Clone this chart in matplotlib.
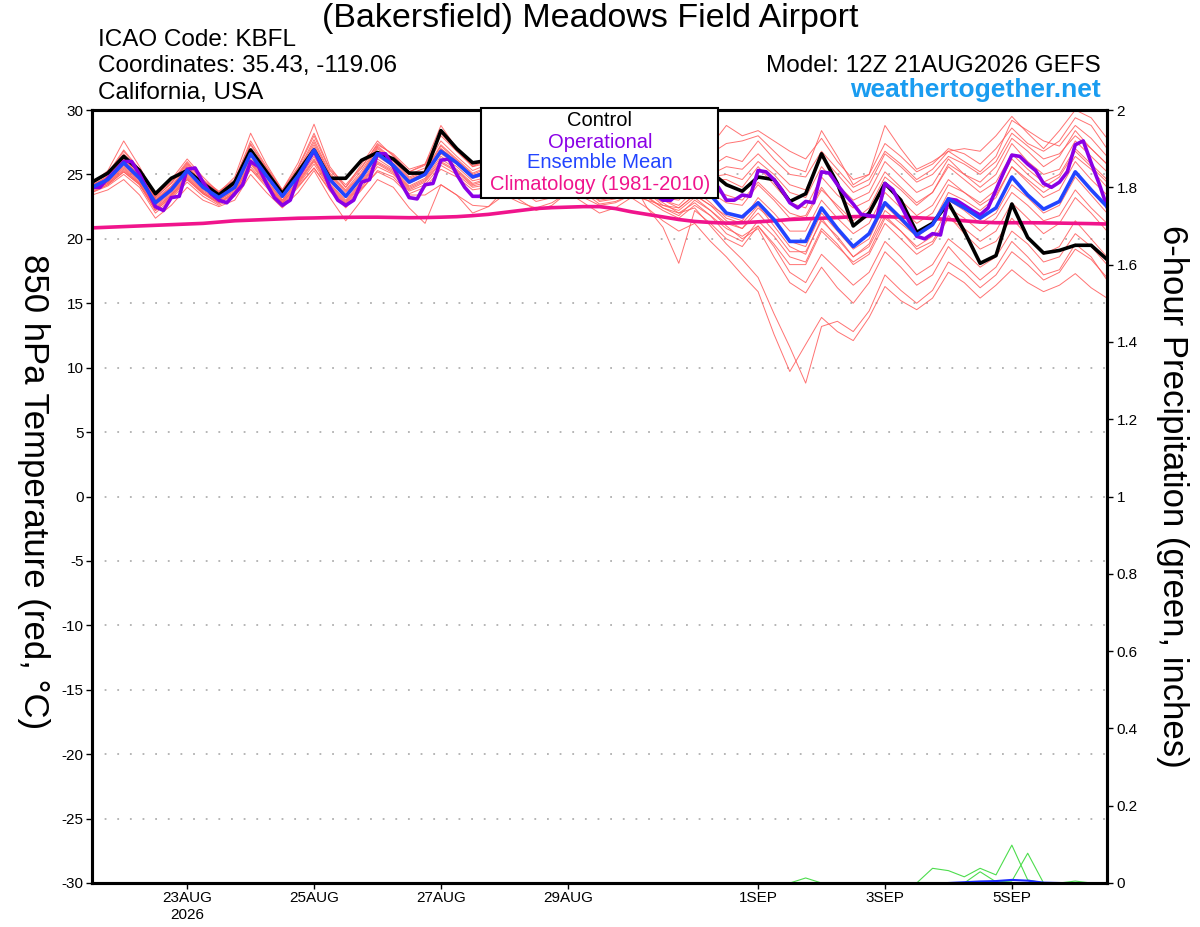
import numpy as np
import pandas as pd
import matplotlib
matplotlib.use("Agg")
import matplotlib.pyplot as plt
from matplotlib.patches import Rectangle

plt.rcParams['font.family'] = ['Liberation Sans', 'DejaVu Sans']
plt.rcParams['axes.unicode_minus'] = False

# 6-hourly GEFS steps from 12Z 21AUG2026, operational run every 3 hours
times = pd.date_range("2026-08-21 12:00", periods=65, freq="6h")
times_op = pd.date_range("2026-08-21 12:00", periods=129, freq="3h")

control = [24.4, 25.1, 26.4, 25.3, 23.5, 24.7, 25.3, 24.3, 23.4, 24.4, 26.9, 25.2, 23.5, 25.2, 26.9, 24.7,
           24.7, 26.1, 26.7, 26.2, 25.1, 25.1, 28.4, 27.0, 25.9, 26.1, 27.2, 26.0, 24.8, 25.6, 27.0, 26.0,
           24.6, 25.0, 26.4, 25.6, 24.6, 24.8, 25.8, 25.2, 24.2, 23.7, 24.8, 24.6, 22.9, 23.5, 26.6, 24.3,
           21.0, 22.0, 24.3, 23.0, 20.5, 21.2, 22.8, 20.6, 18.1, 18.7, 22.7, 20.1, 18.9, 19.1, 19.5, 19.5, 18.4]

ens_mean = [24.0, 24.6, 25.9, 24.7, 22.8, 23.8, 25.3, 24.0, 23.2, 24.0, 26.6, 24.9, 23.3, 24.9, 26.9, 24.6,
            23.3, 24.8, 26.6, 25.7, 24.4, 25.0, 26.8, 25.9, 24.8, 25.2, 26.0, 25.0, 24.0, 24.4, 25.6, 24.8,
            23.8, 24.0, 24.8, 24.2, 23.6, 23.6, 24.2, 23.4, 22.0, 21.7, 22.8, 21.5, 19.8, 19.8, 22.4, 20.8,
            19.4, 20.4, 22.8, 21.6, 20.3, 21.1, 23.1, 22.4, 21.6, 22.4, 24.8, 23.4, 22.3, 22.9, 25.2, 23.8, 22.5]

operational = [24.0, 24.0, 24.7, 25.3, 26.0, 26.0, 25.0, 23.8, 22.5, 22.2, 23.2, 23.3, 25.4, 25.5, 24.4, 23.5,
               23.0, 22.8, 23.5, 24.2, 26.0, 25.6, 24.3, 23.2, 22.6, 23.0, 24.8, 25.8, 26.8, 25.6, 24.0, 23.0,
               22.6, 23.0, 24.4, 24.6, 26.6, 26.6, 25.6, 24.3, 23.2, 23.1, 24.2, 24.3, 26.1, 26.2, 25.0, 24.0,
               23.3, 23.3, 24.5, 25.8, 26.5, 26.0, 25.0, 24.2, 23.8, 24.0, 25.0, 25.8, 26.3, 25.7, 24.8, 24.0,
               23.6, 23.8, 24.6, 25.3, 25.6, 25.0, 24.0, 23.4, 23.0, 23.0, 23.6, 24.5, 25.0, 24.8, 24.6, 24.0,
               23.0, 23.0, 23.4, 23.3, 25.3, 25.2, 24.6, 23.8, 22.8, 22.4, 22.9, 22.8, 25.2, 25.1, 24.2, 23.4,
               22.7, 21.9, 21.8, 21.7, 24.3, 23.8, 22.6, 21.4, 20.2, 20.0, 20.4, 20.3, 23.1, 23.0, 22.6, 22.2,
               21.85, 22.4, 23.8, 25.2, 26.5, 26.4, 25.8, 25.3, 24.3, 24.0, 24.4, 25.2, 27.3, 27.6, 25.9, 24.3, 22.5]

climatology = [20.85, 20.9, 20.95, 21.0, 21.05, 21.1, 21.15, 21.2, 21.3, 21.4, 21.45, 21.5, 21.55, 21.6, 21.62, 21.65,
               21.67, 21.68, 21.68, 21.66, 21.64, 21.65, 21.68, 21.72, 21.8, 21.9, 22.05, 22.2, 22.35, 22.42, 22.46, 22.5,
               22.5, 22.35, 22.1, 21.9, 21.7, 21.5, 21.35, 21.27, 21.22, 21.25, 21.32, 21.4, 21.5, 21.55, 21.6, 21.65,
               21.72, 21.75, 21.72, 21.68, 21.64, 21.58, 21.5, 21.4, 21.3, 21.25, 21.25, 21.25, 21.24, 21.22, 21.2, 21.18, 21.15]

members = [
    [24.3, 25.3, 27.6, 25.6, 23.3, 24.6, 26.2, 24.8, 23.6, 24.8, 28.2, 25.8, 23.8, 25.9, 28.9, 25.6, 24.0, 25.8, 27.6, 26.4, 25.2, 25.8, 28.8, 27.0, 25.6, 26.2, 27.6, 26.0, 24.8, 25.4, 27.0, 25.8, 24.6, 25.0, 26.2, 25.2,
     24.6, 25.4, 26.6, 27.2, 28.8, 28.0, 28.4, 27.6, 26.8, 26.2, 27.8, 26.0, 24.6, 25.0, 27.4, 26.4, 25.2, 25.8, 27.0, 26.6, 25.8, 27.0, 28.6, 27.4, 26.8, 27.6, 29.4, 28.8, 27.0],
    [24.1, 24.9, 26.6, 25.2, 23.2, 24.3, 25.8, 24.5, 23.6, 24.4, 27.3, 25.4, 23.7, 25.3, 27.7, 25.1, 23.8, 25.3, 27.2, 26.2, 25.0, 25.5, 27.6, 26.4, 25.3, 25.8, 26.8, 25.6, 24.6, 25.0, 26.3, 25.4, 24.4, 24.6, 25.6, 25.0,
     24.8, 25.2, 26.0, 25.6, 26.4, 26.0, 27.6, 26.2, 25.0, 24.8, 26.8, 25.4, 24.0, 24.6, 26.8, 25.8, 24.6, 25.4, 26.8, 26.0, 25.2, 26.4, 29.2, 28.4, 27.6, 27.2, 28.8, 27.8, 26.4],
    [24.2, 24.8, 26.2, 24.9, 23.0, 24.0, 25.6, 24.2, 23.4, 24.2, 26.9, 25.1, 23.5, 25.1, 27.3, 24.9, 23.6, 25.0, 27.0, 26.0, 24.7, 25.2, 27.2, 26.1, 25.0, 25.5, 26.4, 25.3, 24.3, 24.7, 26.0, 25.1, 24.1, 24.3, 25.2, 24.6,
     24.0, 24.6, 25.6, 24.8, 25.0, 24.6, 26.0, 25.0, 23.6, 23.2, 25.6, 24.2, 23.0, 23.6, 26.0, 24.8, 23.6, 24.2, 26.2, 25.0, 24.0, 25.0, 27.4, 26.0, 25.0, 25.4, 27.6, 26.4, 25.2],
    [24.0, 24.5, 25.7, 24.6, 22.7, 23.7, 25.2, 23.9, 23.1, 23.9, 26.4, 24.8, 23.2, 24.8, 26.7, 24.5, 23.2, 24.7, 26.4, 25.6, 24.3, 24.9, 26.6, 25.8, 24.7, 25.0, 25.8, 24.9, 23.9, 24.3, 25.4, 24.7, 23.7, 23.9, 24.6, 24.0,
     23.2, 23.0, 24.2, 23.6, 22.8, 22.6, 24.2, 23.0, 21.6, 21.8, 24.0, 22.4, 21.0, 21.8, 24.2, 23.0, 21.8, 22.6, 24.6, 23.6, 22.6, 23.4, 25.6, 24.4, 23.2, 23.8, 26.0, 24.6, 23.4],
    [23.8, 24.3, 25.4, 24.3, 22.4, 23.4, 24.8, 23.6, 22.9, 23.6, 25.9, 24.4, 22.9, 24.4, 26.1, 24.1, 22.8, 24.3, 25.9, 25.2, 23.9, 24.5, 26.0, 25.3, 24.2, 24.6, 25.2, 24.4, 23.4, 23.8, 24.8, 24.2, 23.2, 23.4, 24.0, 23.6,
     23.0, 22.4, 23.4, 22.6, 21.4, 20.8, 22.4, 21.4, 19.8, 19.4, 22.0, 20.6, 19.2, 20.0, 22.6, 21.4, 20.2, 21.0, 23.0, 22.2, 21.2, 22.0, 24.2, 23.2, 22.0, 22.6, 24.8, 23.4, 22.0],
    [23.6, 24.1, 25.0, 24.0, 22.0, 23.1, 24.4, 23.3, 22.6, 23.3, 25.4, 24.0, 22.6, 24.0, 25.5, 23.7, 22.4, 23.8, 25.3, 24.8, 23.5, 24.0, 25.4, 24.8, 23.8, 24.0, 24.6, 23.8, 22.9, 23.2, 24.2, 23.6, 22.7, 22.9, 23.4, 23.0,
     22.2, 21.6, 22.6, 21.8, 20.4, 19.8, 21.4, 20.2, 18.6, 18.2, 20.8, 19.6, 18.0, 18.8, 21.2, 20.0, 18.8, 19.6, 21.6, 20.8, 19.8, 20.6, 22.8, 21.6, 20.4, 21.2, 23.2, 22.0, 20.6],
    [23.4, 23.8, 24.6, 23.4, 21.6, 22.6, 24.0, 23.0, 22.5, 23.0, 25.0, 23.6, 22.4, 23.6, 25.3, 23.2, 21.4, 23.0, 24.6, 24.0, 22.4, 21.2, 24.2, 23.4, 22.0, 22.5, 23.8, 23.0, 22.2, 22.6, 23.6, 22.8, 22.0, 22.4, 23.2, 22.4,
     21.4, 20.6, 21.2, 19.8, 18.6, 17.2, 15.9, 12.6, 9.7, 11.8, 13.9, 12.8, 12.1, 13.9, 16.3, 15.2, 14.5, 15.4, 17.4, 16.6, 15.4, 16.4, 17.6, 16.6, 15.9, 16.4, 17.3, 16.2, 15.4],
    [23.9, 24.4, 25.6, 24.5, 22.6, 23.6, 25.0, 23.8, 23.0, 23.8, 26.2, 24.6, 23.0, 24.6, 26.4, 24.3, 23.0, 24.5, 26.2, 25.4, 24.1, 24.7, 26.4, 25.6, 24.5, 24.8, 25.6, 24.6, 23.6, 24.0, 25.0, 24.4, 23.4, 23.6, 24.2, 23.6,
     22.8, 22.0, 22.4, 21.0, 19.6, 18.4, 17.0, 14.2, 11.6, 8.8, 13.2, 13.6, 12.8, 14.4, 17.2, 16.0, 15.0, 16.0, 18.2, 17.4, 16.2, 17.2, 19.0, 18.0, 16.8, 17.4, 19.2, 18.4, 17.0],
    [24.4, 25.0, 26.4, 25.1, 23.1, 24.1, 25.7, 24.3, 23.5, 24.3, 27.0, 25.2, 23.6, 25.2, 27.5, 25.0, 23.7, 25.1, 27.1, 26.1, 24.8, 25.3, 27.3, 26.2, 25.1, 25.6, 26.6, 25.4, 24.4, 24.8, 26.2, 25.2, 24.2, 24.0, 24.6, 22.4,
     20.9, 18.1, 22.2, 21.2, 20.0, 19.4, 21.0, 19.6, 18.0, 18.0, 20.6, 19.4, 18.2, 19.0, 21.6, 20.6, 19.4, 20.2, 22.4, 21.6, 20.6, 21.6, 23.6, 22.6, 21.4, 21.8, 23.8, 22.4, 21.2],
    [24.5, 25.1, 26.9, 25.4, 23.4, 24.4, 26.0, 24.6, 23.7, 24.6, 27.6, 25.6, 23.8, 25.6, 28.2, 25.4, 24.2, 25.6, 27.3, 26.6, 25.4, 25.8, 28.2, 26.8, 25.7, 26.0, 27.2, 26.2, 25.2, 25.4, 26.8, 26.0, 25.0, 25.2, 26.4, 25.8,
     25.6, 26.0, 27.0, 26.6, 27.4, 27.6, 28.0, 26.8, 25.6, 25.2, 28.4, 26.4, 24.2, 25.0, 28.8, 27.0, 25.4, 26.0, 26.8, 27.0, 26.8, 28.0, 29.5, 28.2, 27.0, 28.4, 30.0, 29.4, 27.8],
    [23.7, 24.2, 25.2, 24.2, 22.2, 23.3, 24.6, 23.5, 22.8, 23.5, 25.6, 24.2, 22.8, 24.2, 25.8, 23.9, 22.6, 24.0, 25.6, 25.0, 23.7, 24.2, 25.7, 25.0, 24.0, 24.2, 24.9, 24.0, 23.1, 23.5, 24.5, 23.9, 22.9, 23.1, 23.8, 23.2,
     22.4, 22.0, 22.8, 21.8, 20.8, 20.2, 21.0, 19.4, 17.4, 16.6, 18.8, 17.6, 16.4, 17.4, 19.8, 18.6, 17.2, 18.0, 20.0, 19.0, 17.8, 18.6, 20.6, 19.6, 18.2, 18.6, 20.4, 19.4, 18.0],
    [24.2, 24.7, 26.0, 25.0, 23.0, 24.0, 25.4, 24.2, 23.3, 24.2, 26.8, 25.0, 23.4, 25.0, 27.0, 24.8, 23.4, 24.9, 26.8, 25.8, 24.6, 25.1, 27.0, 26.0, 24.9, 25.3, 26.2, 25.2, 24.2, 24.6, 25.8, 25.0, 24.0, 24.2, 25.0, 24.4,
     23.8, 24.0, 25.0, 24.6, 24.6, 24.0, 25.6, 24.2, 22.8, 22.4, 24.8, 23.4, 22.4, 23.0, 25.2, 24.0, 22.8, 23.6, 25.6, 24.6, 23.6, 24.4, 26.6, 25.4, 24.4, 25.0, 27.0, 25.8, 24.6],
    [23.9, 24.4, 25.5, 24.4, 22.5, 23.5, 24.9, 23.7, 23.0, 23.7, 26.0, 24.5, 23.0, 24.5, 26.2, 24.2, 22.9, 24.4, 26.0, 25.3, 24.0, 24.6, 26.2, 25.4, 24.3, 24.7, 25.4, 24.5, 23.5, 23.9, 24.9, 24.3, 23.3, 23.5, 24.2, 23.6,
     22.6, 22.2, 23.2, 22.2, 21.0, 20.0, 20.8, 18.6, 16.6, 15.8, 17.8, 16.2, 15.0, 16.6, 19.0, 17.8, 16.4, 17.2, 19.4, 18.0, 16.8, 17.8, 19.8, 18.6, 17.2, 17.6, 19.6, 18.6, 16.8],
    [24.1, 24.7, 26.3, 24.8, 22.9, 23.9, 25.5, 24.1, 23.3, 24.1, 26.7, 25.0, 23.4, 25.0, 27.1, 24.7, 23.4, 24.9, 26.7, 25.8, 24.5, 25.1, 27.0, 26.0, 24.9, 25.2, 26.2, 25.1, 24.1, 24.5, 25.7, 24.9, 23.9, 24.1, 24.9, 24.3,
     23.6, 23.8, 24.6, 23.8, 23.4, 23.0, 24.4, 23.2, 22.0, 21.6, 23.8, 22.6, 21.4, 22.4, 24.8, 23.8, 22.6, 23.6, 25.8, 25.0, 24.4, 25.6, 27.8, 26.8, 25.6, 26.4, 28.4, 27.0, 25.8],
    [23.8, 24.3, 25.3, 24.3, 22.3, 23.4, 24.7, 23.6, 22.8, 23.6, 25.8, 24.3, 22.8, 24.3, 26.0, 24.0, 22.7, 24.2, 25.8, 25.1, 23.8, 24.4, 25.9, 25.2, 24.1, 24.4, 25.1, 24.2, 23.2, 23.6, 24.6, 24.0, 23.0, 23.2, 23.9, 23.3,
     22.4, 21.8, 23.0, 22.2, 21.2, 20.8, 22.0, 20.6, 19.0, 19.0, 21.4, 20.2, 18.6, 19.4, 21.8, 20.6, 19.2, 19.8, 21.8, 20.4, 19.2, 19.8, 21.6, 20.2, 18.8, 19.4, 21.4, 20.0, 18.6],
    [24.0, 24.6, 26.0, 24.7, 22.8, 23.8, 25.3, 24.0, 23.2, 24.0, 26.5, 24.9, 23.3, 24.9, 26.8, 24.6, 23.3, 24.8, 26.5, 25.7, 24.4, 25.0, 26.7, 25.8, 24.8, 25.1, 25.9, 25.0, 24.0, 24.4, 25.5, 24.8, 23.8, 24.0, 24.7, 24.1,
     23.0, 22.6, 23.8, 22.8, 21.6, 21.2, 22.6, 21.0, 19.4, 18.8, 21.6, 20.0, 18.6, 19.6, 22.2, 21.2, 20.2, 21.2, 23.6, 23.0, 22.2, 23.2, 25.6, 24.6, 23.6, 24.4, 26.4, 25.4, 24.0],
    [23.6, 24.2, 25.2, 24.2, 22.2, 23.2, 24.6, 23.5, 22.7, 23.5, 25.4, 24.2, 22.7, 24.1, 25.5, 23.8, 22.5, 23.9, 25.2, 24.6, 23.4, 23.4, 24.2, 23.4, 22.6, 22.5, 23.4, 22.8, 22.4, 22.8, 23.6, 23.2, 22.6, 22.8, 23.4, 23.0,
     22.6, 22.4, 23.4, 22.6, 21.8, 21.4, 23.2, 22.0, 20.6, 20.6, 23.0, 21.6, 20.4, 21.2, 23.6, 22.4, 21.2, 22.0, 24.2, 23.6, 22.8, 23.8, 26.2, 25.0, 24.0, 24.8, 26.8, 25.6, 24.4],
    [24.3, 25.0, 26.8, 25.3, 23.2, 24.3, 25.9, 24.5, 23.6, 24.5, 27.4, 25.5, 23.7, 25.5, 28.0, 25.3, 24.0, 25.5, 27.4, 26.5, 25.2, 25.7, 28.0, 26.8, 25.6, 25.9, 27.0, 25.9, 24.9, 25.2, 26.6, 25.7, 24.7, 24.9, 25.9, 25.2,
     24.6, 24.6, 25.4, 25.0, 25.6, 25.4, 26.6, 25.4, 24.2, 23.8, 26.4, 25.0, 23.6, 24.2, 26.6, 25.6, 24.4, 25.0, 26.4, 25.8, 25.0, 26.0, 28.2, 27.2, 26.2, 26.6, 28.0, 27.0, 25.8],
]

# 6-hour precipitation (inches): only the members that show any rain
precip_a_steps = [52, 53, 54, 55, 56, 57, 58, 59, 60]
precip_a = [0.0, 0.038, 0.032, 0.016, 0.038, 0.021, 0.098, 0.008, 0.0]
precip_b_steps = [55, 56, 57, 58, 59, 60]
precip_b = [0.0, 0.029, 0.003, 0.005, 0.077, 0.0]
precip_c_steps = [43, 44, 45, 46, 47, 61, 62, 63]
precip_c = [0.0, 0.0, 0.013, 0.0, 0.0, 0.0, 0.005, 0.0]
precip_mean_steps = [54, 55, 56, 57, 58, 59, 60, 61]
precip_mean = [0.0, 0.002, 0.004, 0.005, 0.008, 0.006, 0.001, 0.0]

tick_days = ["2026-08-23", "2026-08-25", "2026-08-27", "2026-08-29", "2026-09-01", "2026-09-03", "2026-09-05"]
tick_labels = ["23AUG\n2026", "25AUG", "27AUG", "29AUG", "1SEP", "3SEP", "5SEP"]

C_OPER = "#8a00e6"
C_MEAN = "#2244ff"
C_CLIM = "#f0148c"

fig = plt.figure(figsize=(12, 9.27), dpi=100)
ax = fig.add_axes([92 / 1200, 1 - 883 / 927, (1107 - 92) / 1200, (883 - 110) / 927])

for m in members:
    ax.plot(times, m, color="#ff5a5a", lw=0.7, alpha=0.85, zorder=2)
ax.plot(times, climatology, color=C_CLIM, lw=2.6, zorder=3)
ax.plot(times, control, color="black", lw=2.6, zorder=4)
ax.plot(times_op, operational, color=C_OPER, lw=2.6, zorder=5)
ax.plot(times, ens_mean, color=C_MEAN, lw=2.6, zorder=6)

ax.set_xlim(times[0], times[-1])
ax.set_ylim(-30, 30)
ax.set_yticks(np.arange(-30, 31, 5))
ax.yaxis.grid(True, linestyle=(0, (1, 6)), color="#b0b0b0", lw=1.3)
ax.set_axisbelow(True)
ax.set_xticks(pd.to_datetime(tick_days))
ax.set_xticklabels(tick_labels)
ax.tick_params(axis="both", direction="out", length=4, width=1, labelsize=11, pad=2)

ax2 = ax.twinx()
ax2.plot(times[precip_a_steps], precip_a, color="#4ddd4d", lw=0.8)
ax2.plot(times[precip_b_steps], precip_b, color="#4ddd4d", lw=0.8)
ax2.plot(times[precip_c_steps], precip_c, color="#4ddd4d", lw=0.8)
ax2.plot(times[precip_mean_steps], precip_mean, color="#1a2aff", lw=1.5)
ax2.set_ylim(0, 2)
ax2.set_yticks(np.arange(0, 2.01, 0.2))
ax2.set_yticklabels(["%g" % round(v, 1) for v in np.arange(0, 2.01, 0.2)])
ax2.tick_params(axis="y", direction="out", length=4, width=1, labelsize=11, pad=3)
ax2.set_xlim(times[0], times[-1])

for a in (ax, ax2):
    for s in a.spines.values():
        s.set_linewidth(2.2)
        s.set_color("black")

# legend box laid over the top of the plot
fig.add_artist(Rectangle((481 / 1200, 1 - 198 / 927), (718 - 481) / 1200, 90 / 927,
                         transform=fig.transFigure, facecolor="white", edgecolor="black", lw=1.5, zorder=5))
legend_items = [("Control", "black", 121), ("Operational", C_OPER, 142),
                ("Ensemble Mean", C_MEAN, 163), ("Climatology (1981-2010)", C_CLIM, 185)]
for txt, col, y in legend_items:
    fig.text(600 / 1200, 1 - y / 927, txt, color=col, fontsize=14.5, ha="center", va="center", zorder=6)

fig.text(590 / 1200, 1 - 18 / 927, "(Bakersfield) Meadows Field Airport", fontsize=24.5, ha="center", va="center")
fig.text(98 / 1200, 1 - 40 / 927, "ICAO Code: KBFL", fontsize=17.5, va="center")
fig.text(98 / 1200, 1 - 66 / 927, "Coordinates: 35.43, -119.06", fontsize=17.5, va="center")
fig.text(98 / 1200, 1 - 93 / 927, "California, USA", fontsize=17.5, va="center")
fig.text(1101 / 1200, 1 - 66 / 927, "Model: 12Z 21AUG2026 GEFS", fontsize=17.5, ha="right", va="center")
fig.text(1101 / 1200, 1 - 90 / 927, "weathertogether.net", fontsize=19, fontweight="bold",
         color="#1a9cf0", ha="right", va="center")

fig.text(33 / 1200, 1 - 492 / 927, "850 hPa Temperature (red, °C)", fontsize=25,
         rotation=270, ha="center", va="center")
fig.text(1172 / 1200, 1 - 496 / 927, "6-hour Precipitation (green, inches)", fontsize=25,
         rotation=270, ha="center", va="center")

fig.savefig("out.png", dpi=100)
